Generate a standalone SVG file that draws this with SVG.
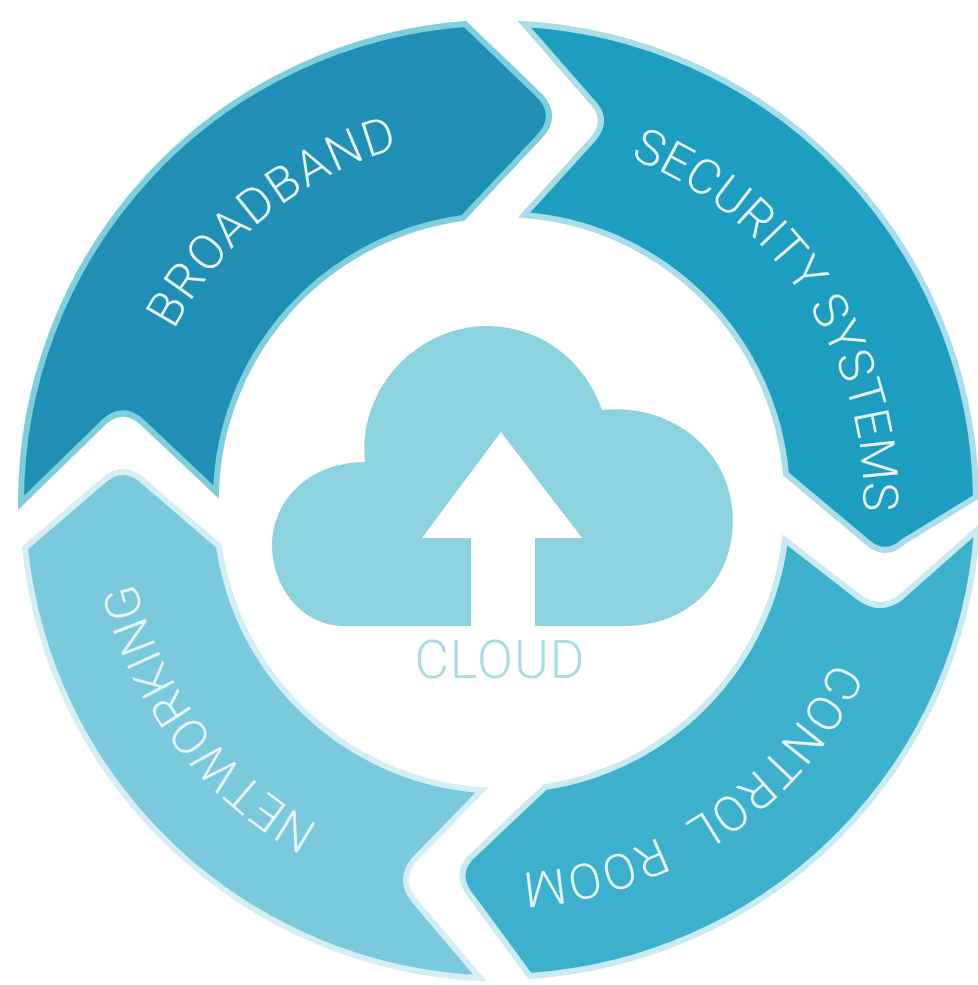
<svg xmlns="http://www.w3.org/2000/svg" width="978" height="985" viewBox="0 0 978 985">
<style>
.seg{stroke-width:6;stroke-linejoin:miter;stroke-miterlimit:8}
.lbl{font-family:Roboto,"Liberation Sans",Arial,sans-serif;font-weight:300;font-size:49px;fill:#e6f5f8}
</style>
<defs>
<path id="a1" d="M174 330A365 365 0 0 1 620 156"/>
<path id="a2" d="M630 158A366 366 0 0 1 841 625"/>
<path id="a3" d="M834 661A373 373 0 0 1 369 851"/>
<path id="a4" d="M319 825A371 371 0 0 1 176 314"/>
</defs>
<rect width="978" height="985" fill="#fff"/>
<g id="connectors"/>
<g id="broadband"><path class="seg" fill="#1f8fb5" stroke="#7fcedc" d="M21 503A480 480 0 0 1 465 24L540 96Q558 116 540 136L463 218A285 285 0 0 0 216 492L142 422Q123 405 104 422Z"/><text class="lbl" letter-spacing="1.6"><textPath href="#a1">BROADBAND</textPath></text></g>
<g id="security"><path class="seg" fill="#1d9dc0" stroke="#a9dde8" d="M524 24A480 480 0 0 1 976 497L903 542Q885 558 867 542L786 474A285 285 0 0 0 524 215L594 138Q608 120 594 104Z"/><text class="lbl"><textPath href="#a2">SECURITY SYSTEMS</textPath></text></g>
<g id="control"><path class="seg" fill="#3db0cd" stroke="#c9eaf0" d="M977 530A480 480 0 0 1 530 976L468 892Q456 874 470 858L545 787A285 285 0 0 0 785 540L860 598Q880 612 900 598Z"/><text class="lbl" letter-spacing="1" word-spacing="14"><textPath href="#a3">CONTROL ROOM</textPath></text></g>
<g id="networking"><path class="seg" fill="#7bc9dc" stroke="#d5eef3" d="M480 978A480 480 0 0 1 25 548L104 480Q123 464 142 480L219 546A285 285 0 0 0 482 790L414 860Q398 880 414 900Z"/><text class="lbl"><textPath href="#a4">NETWORKING</textPath></text></g>
<g id="cloud"><path fill="#8dd3df" d="M345 626C300 626 272 585 272 545C272 500 310 462 365 462C358 385 420 326 487 326C540 326 585 360 602 410C670 402 733 450 733 520C733 580 690 626 625 626Z"/><path fill="#fff" d="M471 640V538H422L501 432 582 538H535V640Z"/><text x="500" y="678" text-anchor="middle" font-family="Roboto,Liberation Sans,Arial,sans-serif" font-weight="300" font-size="53" letter-spacing="1" fill="#a5dce6">CLOUD</text></g>
</svg>
